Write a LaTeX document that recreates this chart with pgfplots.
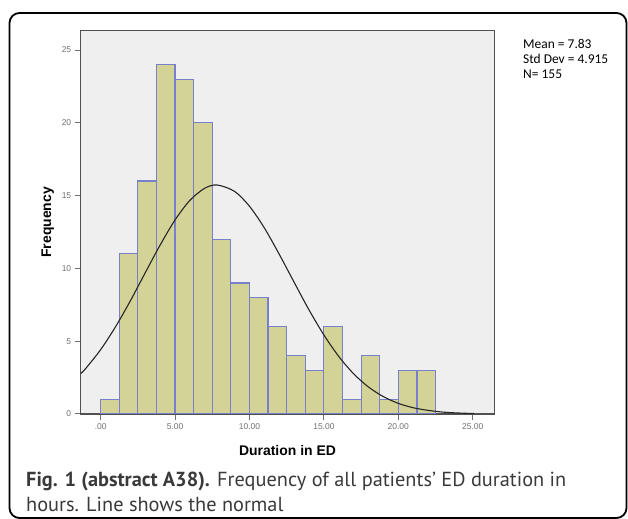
\documentclass[border=0pt]{standalone}
\usepackage{fontspec}
\setmainfont{Liberation Sans}
\newfontfamily\capfont{PT Sans}
\newfontfamily\statfont{Carlito}
\usepackage{pgfplots}
\pgfplotsset{compat=1.18}

\definecolor{plotbg}{HTML}{EFEFEF}
\definecolor{barfill}{HTML}{D3D398}
\definecolor{baredge}{HTML}{7880CC}
\definecolor{axisgray}{HTML}{505050}
\definecolor{tickgray}{HTML}{707070}
\definecolor{captxt}{HTML}{3A3A3A}

\begin{document}
\begin{tikzpicture}[x=1bp,y=1bp]
  \useasboundingbox (0,0) rectangle (628,519);
  % outer frame
  \draw[line width=1.8bp, rounded corners=10bp] (9.5,1) rectangle (626.5,506);

  \begin{axis}[
    at={(80.7bp,105bp)}, anchor=south west,
    scale only axis,
    width=413.6bp, height=383.3bp,
    xmin=-1.34, xmax=26.45,
    ymin=0, ymax=26.33,
    axis background/.style={fill=plotbg},
    axis line style={draw=axisgray, line width=1.4bp},
    xtick={0,5,10,15,20,25},
    xticklabels={.00,5.00,10.00,15.00,20.00,25.00},
    ytick={0,5,10,15,20,25},
    tick align=outside,
    major tick length=6bp,
    tick style={draw=tickgray, line width=1bp},
    xtick pos=bottom, ytick pos=left,
    tick label style={font=\fontsize{8.5}{10}\selectfont, text=tickgray},
    yticklabel style={/pgf/number format/assume math mode=true},
    xlabel={\textbf{Duration in ED}},
    ylabel={\textbf{Frequency}},
    label style={font=\fontsize{14}{16}\selectfont},
    xlabel style={yshift=-9bp},
    ylabel style={yshift=1bp},
    clip=true,
  ]
  \addplot[ybar interval, fill=barfill, draw=baredge, line width=1.2bp]
    coordinates {
    (0,1) (1.25,11) (2.5,16) (3.75,24) (5,23) (6.25,20) (7.5,12) (8.75,9)
    (10,8) (11.25,6) (12.5,4) (13.75,3) (15,6) (16.25,1) (17.5,4) (18.75,1)
    (20,3) (21.25,3) (22.5,3)
    };
  \addplot[smooth, black!85, line width=1.1bp]
    coordinates {
    (-1.34,2.77) (-1,3.13) (0,4.42) (1,5.99) (2,7.78) (3,9.71) (4,11.61)
    (5,13.33) (6,14.68) (7,15.51) (7.83,15.73) (9,15.29) (10,14.27)
    (11,12.78) (12,10.97) (13,9.05) (14,7.15) (15,5.43) (16,3.95)
    (17,2.76) (18,1.85) (19,1.19) (20,0.73) (21,0.43) (22,0.25)
    (23,0.13) (24,0.07) (25.1,0.03)
    };
  \end{axis}

  % statistics
  \begin{scope}[every node/.style={anchor=base west, inner sep=0pt,
        font=\statfont\fontsize{13.5}{15}\selectfont}]
    \node at (523,470) {Mean = 7.83};
    \node at (523,455) {Std Dev = 4.915};
    \node at (523,440) {N= 155};
  \end{scope}

  % caption
  \begin{scope}[every node/.style={anchor=base west, inner sep=0pt, text=captxt,
        font=\capfont\fontsize{20.4}{25}\selectfont}]
    \node at (26,32) {{\bfseries Fig. 1 (abstract A38).} Frequency of all patients’ ED duration in};
    \node at (26,7) {hours. Line shows the normal};
  \end{scope}
\end{tikzpicture}
\end{document}
